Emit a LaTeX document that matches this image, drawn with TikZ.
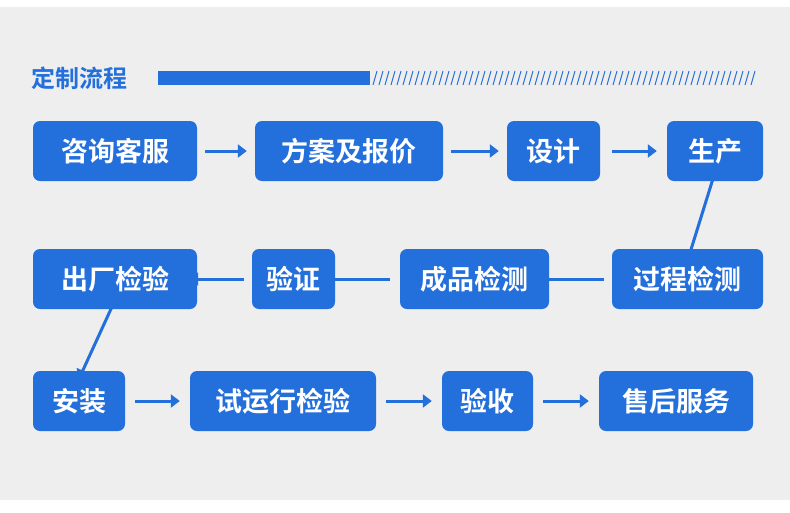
\documentclass[tikz,border=0pt]{standalone}
\usepackage{fontspec}
\newfontfamily\cjk{Noto Sans CJK SC Bold}
\usetikzlibrary{arrows.meta}
\definecolor{bl}{HTML}{236FDB}
\definecolor{bg}{HTML}{EEEEEE}
\begin{document}
\begin{tikzpicture}[x=1pt,y=-1pt,
 box/.style={fill=bl,rounded corners=7pt,text=white,font=\cjk\fontsize{27}{27}\selectfont,inner sep=0pt},
 arr/.style={draw=bl,line width=3pt,-{Triangle[length=9pt,width=13pt]}}]
\useasboundingbox (0,0) rectangle (790,512);
\fill[white] (0,0) rectangle (790,512);
\fill[bg] (0,7) rectangle (790,500);
\node[anchor=west,text=bl,font=\cjk\fontsize{24}{24}\selectfont,inner sep=0pt] (title) at (31,78) {定制流程};
\fill[bl] (158,71) rectangle (370,85);
\foreach \i in {0,...,63}{\draw[bl,line width=1pt] (373+\i*6,85) -- (377+\i*6,71);}
\newcommand{\bx}[6]{\fill[bl,rounded corners=7pt] (#2,#3) rectangle (#4,#5);
 \node[box,fill=none,minimum width=#4-#2,minimum height=#5-#3] (#1) at ({(#2+#4)/2},{(#3+#5)/2}) {#6};}
\bx{a}{33}{121}{197}{181}{咨询客服}
\bx{b}{255}{121}{443}{181}{方案及报价}
\bx{c}{507}{121}{600}{181}{设计}
\bx{d}{667}{121}{763}{181}{生产}
\bx{h}{33}{249}{197}{309}{出厂检验}
\bx{g}{252}{249}{335}{309}{验证}
\bx{f}{400}{249}{549}{309}{成品检测}
\bx{e}{612}{249}{763}{309}{过程检测}
\bx{i}{33}{371}{125}{431}{安装}
\bx{j}{190}{371}{376}{431}{试运行检验}
\bx{k}{442}{371}{533}{431}{验收}
\bx{l}{599}{371}{753}{431}{售后服务}
\draw[arr] ([xshift=8pt]a.east) -- ([xshift=-8pt]b.west);
\draw[arr] ([xshift=8pt]b.east) -- ([xshift=-8pt]c.west);
\draw[arr] ([xshift=12pt]c.east) -- ([xshift=-10pt]d.west);
\draw[arr] ([yshift=9pt]d.south) -- ([yshift=-12pt]e.north);
\draw[arr] ([xshift=-8pt]e.west) -- ([xshift=-12pt]f.east);
\draw[arr] ([xshift=-10pt]f.west) -- ([xshift=-10pt]g.east);
\draw[arr] ([xshift=-8pt]g.west) -- ([xshift=-8pt]h.east);
\draw[arr] ([yshift=9pt]h.south) -- ([yshift=-8pt]i.north);
\draw[arr] ([xshift=10pt]i.east) -- ([xshift=-10pt]j.west);
\draw[arr] ([xshift=10pt]j.east) -- ([xshift=-10pt]k.west);
\draw[arr] ([xshift=10pt]k.east) -- ([xshift=-10pt]l.west);
\end{tikzpicture}
\end{document}
